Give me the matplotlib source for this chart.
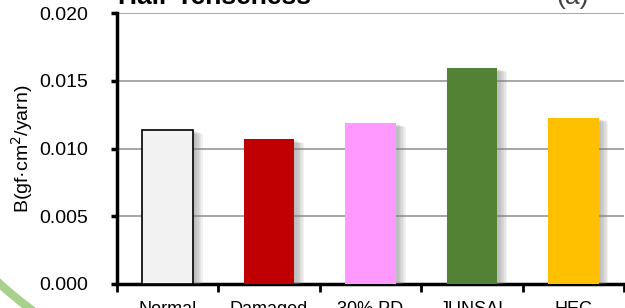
import numpy as np
import matplotlib
matplotlib.use('Agg')
import matplotlib.pyplot as plt
import matplotlib.patheffects as pe
from matplotlib.patches import Arc

plt.rcParams['font.family'] = ['Liberation Sans', 'DejaVu Sans']

# data
categories = ['Normal', 'Damaged', '30% PD', 'JUNSAI', 'HEC']
values = [0.01137, 0.01068, 0.01188, 0.01594, 0.01225]
bar_colors = ['#f2f2f2', '#c00000', '#ff99ff', '#548235', '#ffc000']
yticks = [0.000, 0.005, 0.010, 0.015, 0.020]

fig = plt.figure(figsize=(6.25, 3.08), dpi=100)
ax = fig.add_axes([117/625, 1 - 284/308, 507/625, 271/308])

# soft shadow to the right of each bar
shadow = [pe.SimplePatchShadow(offset=(d, -d*0.4), shadow_rgbFace='#7f7f7f', alpha=0.10)
          for d in (7, 6, 5, 4, 3, 2)] + [pe.Normal()]

x = np.arange(len(categories))
bars = ax.bar(x, values, width=0.5, color=bar_colors, zorder=3)
for b in bars:
    b.set_path_effects(shadow)
bars[0].set_edgecolor('black')
bars[0].set_linewidth(1.2)

ax.set_xlim(-0.5, len(categories) - 0.5)
ax.set_ylim(0, 0.020)
ax.set_yticks(yticks)
ax.set_yticklabels(['%.3f' % v for v in yticks], fontsize=14)
ax.yaxis.grid(True, color='#a6a6a6', linewidth=1.4)
ax.set_axisbelow(True)

ax.set_xticks(x)
ax.set_xticklabels(categories, fontsize=13)
ax.set_xticks(np.arange(len(categories) + 1) - 0.5, minor=True)
ax.tick_params(axis='x', which='major', length=0, pad=12)
ax.tick_params(axis='x', which='minor', length=6, width=2, direction='out')
ax.tick_params(axis='y', length=4, width=2.5, pad=17)

for s in ['top', 'right']:
    ax.spines[s].set_visible(False)
for s in ['left', 'bottom']:
    ax.spines[s].set_linewidth(2.5)

ax.set_ylabel('B(gf·cm$^2$/yarn)', fontsize=14, labelpad=3)

fig.text(118/625, 1 - 4/308, 'Hair Tenseness', fontsize=19, fontweight='bold',
         va='baseline', ha='left')
fig.text(556/625, 1 - 4/308, '(a)', fontsize=19, va='baseline', ha='left',
         color='#404040')

# decorative green arc in the lower left corner (part of a big ring)
ring = Arc((300, 358), 898, 898, theta1=180, theta2=250, transform=None,
           edgecolor='#a9d18e', linewidth=6, zorder=0)
fig.patches.append(ring)

fig.savefig('out.png', dpi=100)
